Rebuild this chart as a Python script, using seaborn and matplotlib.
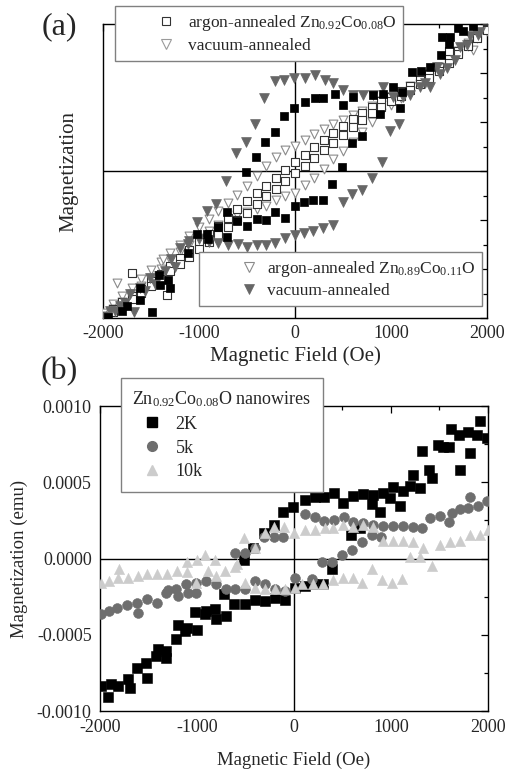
import numpy as np
import pandas as pd
import matplotlib
matplotlib.use("Agg")
import matplotlib.pyplot as plt
from matplotlib.lines import Line2D
from matplotlib.legend_handler import HandlerLine2D
from matplotlib.ticker import MultipleLocator, FormatStrFormatter
import seaborn as sns

# ---------------- Panel (a): arbitrary-unit magnetization ----------------
field_steps = [-2000, -1900, -1800, -1700, -1600, -1500, -1400, -1300, -1200, -1100,
               -1000, -900, -800, -700, -600, -500, -400, -300, -200, -100, 0,
               100, 200, 300, 400, 500, 600, 700, 800, 900, 1000, 1100, 1200, 1300,
               1400, 1500, 1600, 1700, 1800, 1900, 2000]

# argon-annealed Zn0.92Co0.08O (open squares): two branches
ar08_up = [-2.95, -2.82, -2.68, -2.55, -2.40, -2.25, -2.10, -1.94, -1.78, -1.62,
           -1.45, -1.28, -1.12, -0.95, -0.78, -0.62, -0.45, -0.30, -0.14, 0.02, 0.18,
           0.33, 0.48, 0.63, 0.78, 0.92, 1.06, 1.18, 1.30, 1.42, 1.52, 1.63, 1.74, 1.86,
           1.98, 2.12, 2.28, 2.45, 2.60, 2.76, 2.90]
ar08_dn = [-2.95, -2.88, -2.75, -2.62, -2.48, -2.34, -2.20, -2.05, -1.90, -1.75,
           -1.60, -1.45, -1.30, -1.15, -1.00, -0.85, -0.68, -0.52, -0.36, -0.20, -0.05,
           0.10, 0.26, 0.42, 0.58, 0.74, 0.90, 1.04, 1.18, 1.30, 1.42, 1.54, 1.66, 1.78,
           1.90, 2.04, 2.20, 2.38, 2.55, 2.72, 2.88]
ar08_extra_x = [-1698, -1334, 1600]
ar08_extra_y = [-2.09, -2.54, 2.45]

# argon-annealed Zn0.89Co0.11O (open triangles): two branches
ar11_up = [-2.90, -2.72, -2.55, -2.38, -2.20, -2.02, -1.85, -1.68, -1.50, -1.32,
           -1.15, -0.97, -0.82, -0.66, -0.48, -0.30, -0.10, 0.10, 0.28, 0.42, 0.52,
           0.64, 0.75, 0.85, 0.95, 1.05, 1.14, 1.22, 1.32, 1.42, 1.52, 1.62, 1.74, 1.85,
           1.98, 2.12, 2.28, 2.45, 2.62, 2.80, 2.90]
ar11_dn = [-2.95, -2.82, -2.68, -2.52, -2.35, -2.18, -2.00, -1.82, -1.65, -1.50,
           -1.36, -1.22, -1.10, -0.98, -0.90, -0.84, -0.78, -0.71, -0.60, -0.52, -0.44,
           -0.28, -0.14, 0.04, 0.24, 0.41, 0.59, 0.80, 1.00, 1.18, 1.34, 1.50, 1.64, 1.78,
           1.92, 2.06, 2.22, 2.40, 2.56, 2.72, 2.85]
ar11_extra_x = [-1855, 1855, -1375]
ar11_extra_y = [-2.29, 2.47, -1.79]

# vacuum-annealed Zn0.92Co0.08O (black squares)
vac08_x = [1698, 1615, 1532, 1605, 1521, 1407, 1313, 1219, 1115, 1021, 917, 813, 604,
           500, 417, 292, 208, 104, -10, -115, -208, -313, -406, -511,
           -709, -802, -907, -917, -1021, -1115, -1323, -1417, -1615, -1490, -1750,
           -1803, -1615, -1407, -1302, -1950,
           -709, -604, -500, -396, -302, -208, -104, 0, 94, 188, 292, 386, 490, 594,
           698, 886, 1094, 1750, 1850]
vac08_y = [2.92, 2.74, 2.74, 2.60, 2.37, 2.13, 2.05, 2.03, 1.62, 1.72, 1.58, 1.56, 1.52,
           1.34, 1.58, 1.50, 1.48, 1.40, 1.28, 1.12, 0.79, 0.59, 0.28, -0.02,
           -0.83, -1.14, -1.38, -1.28, -1.28, -1.68, -2.23, -2.13, -2.64, -2.88, -2.76,
           -2.86, -2.39, -2.33, -2.39, -2.97,
           -1.34, -1.03, -1.12, -0.97, -1.01, -0.83, -0.95, -0.71, -0.63, -0.59, -0.59,
           -0.26, 0.08, 0.57, 0.71, 1.16, 1.28, 2.85, 2.95]

# vacuum-annealed Zn0.89Co0.11O (grey filled triangles)
vac11_x = [1928, 1824, 1719, 1584, 1480, 1407, 1302, 1125, 1021, 917, 813, 709, 604,
           500, 396, 313, 208, 104, -10, -115, -208, -323, -417, -511, -615, -719,
           -823, -917, -1021, -1115, -1198, -1250, -1417, -1511, -1615, -1719, -1824,
           -1928,
           -1980, -1880, -1770, -1680, -1560, -1460, -1350, -1290, -1100, -1000, -900,
           -800, -698, -594, -500, -396, -300, -208, -104, 0, 94, 188, 292, 396, 500,
           594, 698, 802, 907, 990, 1084, 1198, 1350, 1511, 1667, 1792, 1907]
vac11_y = [2.84, 2.76, 2.54, 2.11, 2.13, 1.72, 1.72, 1.52, 1.52, 1.72, 1.56, 1.56, 1.56,
           1.66, 1.79, 1.85, 1.95, 1.89, 1.89, 1.85, 1.83, 1.48, 0.95, 0.59, 0.37, -0.20,
           -0.67, -0.81, -1.05, -1.48, -1.58, -1.95, -2.15, -2.19, -2.39, -2.52, -2.76,
           -2.86,
           -2.98, -2.85, -2.70, -2.88, -2.45, -2.30, -2.05, -1.80, -1.42, -1.38, -1.45,
           -1.47, -1.52, -1.48, -1.55, -1.52, -1.50, -1.46, -1.36, -1.30, -1.26, -1.22,
           -1.16, -1.10, -0.63, -0.47, -0.39, -0.14, 0.18, 0.81, 0.95, 1.56, 1.80, 1.97,
           2.27, 2.58, 2.78]

# ---------------- Panel (b): Zn0.92Co0.08O nanowires (values in 1e-4 emu) ----------------
k2_x = [-1990, -1918, -1887, -1815, -1711, -1691, -1619, -1516, -1526, -1423, -1402,
        -1320, -1320, -1217, -1196, -1124, -1103, -1000, -1021, -918, -907, -804, -815,
        -701, -619, -505, -402, -299, -196, -93, 10, 113, 196, 299, 392, 588, 680,
        1990, 1918, 1887, 1815, 1794, 1711, 1701, 1619, 1598, 1536, 1485, 1423, 1392,
        1320, 1299, 1227, 1196, 1124, 1093, 1021, 990, 918, 887, 815, 804, 711, 608,
        505, 412, 309, 216, 113, -10, -113, -206, -309, -423, -515, -722]
k2_y = [-8.36, -9.08, -8.22, -8.36, -7.89, -8.49, -7.17, -7.83, -6.84, -6.38, -5.92,
        -6.51, -6.05, -5.26, -4.34, -4.74, -4.54, -4.67, -3.49, -3.62, -3.42, -3.95, -3.29,
        -3.75, -2.96, -2.96, -2.70, -2.76, -2.57, -2.70, -1.91, -1.78, -1.64, -1.64, -0.72,
        1.51, 1.97,
        7.89, 9.01, 8.09, 6.91, 8.29, 5.79, 8.09, 8.49, 7.30, 7.30, 7.43, 5.26, 5.79,
        7.04, 4.61, 5.46, 4.74, 4.41, 3.42, 4.67, 3.95, 4.28, 3.03, 4.14, 3.55, 4.21, 4.08,
        3.62, 4.28, 4.01, 4.01, 3.82, 3.36, 3.03, 2.17, 1.64, 0.72, -0.13, -2.30]

k5_x = [-1990, -1907, -1825, -1722, -1619, -1608, -1516, -1413, -1320, -1299, -1217,
        -1196, -1113, -1093, -1010, -1010, -907, -804, -701, -608, -505, -402, -299,
        -196, -93, 10, 186, 289, 392, 495, 598, 701, 804, 897,
        1990, 1897, 1815, 1794, 1711, 1629, 1598, 1505, 1402, 1320, 1227, 1124, 1021,
        918, 815, 711, 608, 516, 412, 309, 216, 113, -113, -206, -309, -402, -505, -608]
k5_y = [-3.62, -3.42, -3.22, -3.03, -2.89, -3.55, -2.63, -2.89, -2.24, -2.04, -1.97,
        -2.43, -1.64, -2.24, -1.58, -2.24, -1.45, -1.64, -1.97, -1.97, -1.97, -1.45, -1.64,
        -1.97, -2.11, -1.25, -1.32, -0.26, -0.26, 0.26, 0.59, 1.05, 1.51, 1.38,
        3.75, 3.42, 4.01, 3.29, 3.22, 2.96, 2.37, 2.76, 2.63, 1.97, 2.04, 2.11, 2.11,
        2.11, 2.17, 2.30, 2.37, 2.70, 2.50, 2.43, 2.70, 2.89, 1.38, 1.38, 1.38, 0.72,
        0.33, 0.33]

k10_x = [-1990, -1907, -1815, -1711, -1608, -1516, -1413, -1309, -1206, -1103, -1010,
         -887, -804, -711, -608, -505, -402, -299, -196, -93, 10, 82, 196, 299, 402,
         505, 608, 701, 804, 907, 1010, 1113, 1196, 1299, 1423,
         2000, 1918, 1815, 1711, 1608, 1505, 1330, 1227, 1124, 1021, 918, 815, 711,
         608, 505, 402, 320, 216, 113, 0, -103, -206, -299, -402, -515, -588, -815,
         -918, -1000, -1103, -1804]
k10_y = [-1.58, -1.45, -1.25, -1.25, -1.12, -0.99, -0.99, -0.99, -0.79, -0.86, -1.58,
         -0.79, -1.12, -0.79, -0.59, -1.58, -1.91, -1.97, -1.97, -1.97, -1.91, -1.64,
         -1.64, -1.64, -1.38, -1.25, -1.25, -1.58, -0.66, -1.38, -1.58, -1.32, 0.07, 0.07,
         -0.46,
         1.84, 1.51, 1.51, 1.18, 1.05, 0.86, 0.72, 1.05, 1.18, 1.18, 1.18, 2.04, 2.17,
         2.04, 2.17, 1.97, 1.97, 1.84, 1.84, 1.64, 2.04, 2.04, 1.64, 0.66, 1.32, -0.33,
         -0.07, 0.26, -0.07, -0.20, -0.66]

xticks = [-2000, -1000, 0, 1000, 2000]
b_yticks = [-0.0010, -0.0005, 0.0, 0.0005, 0.0010]

# ---------------- style ----------------
sns.set_theme(style="white")
plt.rcParams["font.family"] = ["Liberation Serif", "DejaVu Serif"]
plt.rcParams["mathtext.default"] = "regular"
plt.rcParams["axes.unicode_minus"] = False

W, H = 506, 771
fig = plt.figure(figsize=(W / 100, H / 100), dpi=100)
ax_a = fig.add_axes([103 / W, 1 - 318 / H, (487 - 103) / W, (318 - 24) / H])
ax_b = fig.add_axes([100 / W, 1 - 711 / H, (488 - 100) / W, (711 - 406) / H])


def style_axes(ax):
    for s in ax.spines.values():
        s.set_color("black")
        s.set_linewidth(1.0)
    ax.tick_params(which="both", direction="in", top=True, right=True,
                   color="black", width=0.9)
    ax.tick_params(which="major", length=5)
    ax.tick_params(which="minor", length=3)
    ax.axhline(0, color="black", lw=1.0, zorder=1)
    ax.axvline(0, color="black", lw=1.0, zorder=1)


# ---- panel (a) ----
df_ar08 = pd.DataFrame({"H": field_steps + field_steps + ar08_extra_x,
                        "M": ar08_up + ar08_dn + ar08_extra_y})
df_ar11 = pd.DataFrame({"H": field_steps + field_steps + ar11_extra_x,
                        "M": ar11_up + ar11_dn + ar11_extra_y})
df_v08 = pd.DataFrame({"H": vac08_x, "M": vac08_y})
df_v11 = pd.DataFrame({"H": vac11_x, "M": vac11_y})

sns.scatterplot(data=df_ar11, x="H", y="M", ax=ax_a, marker="v", s=40,
                color="white", edgecolor="#8a8a8a", linewidth=0.8, legend=False, zorder=3)
sns.scatterplot(data=df_ar08, x="H", y="M", ax=ax_a, marker="s", s=32,
                color="white", edgecolor="#333333", linewidth=0.8, legend=False, zorder=3)
sns.scatterplot(data=df_v11, x="H", y="M", ax=ax_a, marker="v", s=50,
                color="#666666", edgecolor="#666666", linewidth=0.5, legend=False, zorder=4)
sns.scatterplot(data=df_v08, x="H", y="M", ax=ax_a, marker="s", s=36,
                color="black", edgecolor="black", linewidth=0.5, legend=False, zorder=4)

style_axes(ax_a)
ax_a.set_xlim(-2000, 2000)
ax_a.set_ylim(-3, 3)
ax_a.set_xticks(xticks)
ax_a.xaxis.set_minor_locator(MultipleLocator(500))
ax_a.yaxis.set_major_locator(MultipleLocator(1))
ax_a.yaxis.set_minor_locator(MultipleLocator(0.5))
ax_a.set_yticklabels([])
ax_a.tick_params(axis="x", labelsize=13, pad=5)
ax_a.set_xlabel("Magnetic Field (Oe)", fontsize=15, labelpad=3)
ax_a.set_ylabel("Magnetization", fontsize=15, labelpad=14)

fs_a = 12.5
h1 = [Line2D([], [], ls="", marker="s", ms=6, mfc="white", mec="#333333", mew=0.8),
      Line2D([], [], ls="", marker="v", ms=6.5, mfc="white", mec="#9a9a9a", mew=0.8)]
leg1 = ax_a.legend(h1, ["argon-annealed Zn$_{0.92}$Co$_{0.08}$O", "vacuum-annealed"],
                   loc="upper left", bbox_to_anchor=(115 / W, 1 - 6 / H),
                   bbox_transform=fig.transFigure, fontsize=fs_a, frameon=True,
                   fancybox=False, edgecolor="#808080", framealpha=1,
                   handlelength=3.2, handletextpad=0.6, borderpad=0.38,
                   labelspacing=0.32, borderaxespad=0,
                   handler_map={Line2D: HandlerLine2D(numpoints=1, xpad=1.9)})
leg1.get_frame().set_linewidth(1.0)
leg1.set_zorder(10)
ax_a.add_artist(leg1)

h2 = [Line2D([], [], ls="", marker="v", ms=6.5, mfc="white", mec="#8a8a8a", mew=0.8),
      Line2D([], [], ls="", marker="v", ms=7.5, mfc="#666666", mec="#666666", mew=0.5)]
leg2 = ax_a.legend(h2, ["argon-annealed Zn$_{0.89}$Co$_{0.11}$O", "vacuum-annealed"],
                   loc="upper left", bbox_to_anchor=(199 / W, 1 - 252 / H),
                   bbox_transform=fig.transFigure, fontsize=fs_a, frameon=True,
                   fancybox=False, edgecolor="#808080", framealpha=1,
                   handlelength=3.0, handletextpad=0.55, borderpad=0.38,
                   labelspacing=0.25, borderaxespad=0,
                   handler_map={Line2D: HandlerLine2D(numpoints=1, xpad=2.0)})
leg2.get_frame().set_linewidth(1.0)
leg2.set_zorder(10)

# ---- panel (b) ----
df_b = pd.concat([
    pd.DataFrame({"H": k2_x, "M": np.array(k2_y) * 1e-4, "T": "2K"}),
    pd.DataFrame({"H": k5_x, "M": np.array(k5_y) * 1e-4, "T": "5k"}),
    pd.DataFrame({"H": k10_x, "M": np.array(k10_y) * 1e-4, "T": "10k"}),
], ignore_index=True)

sns.scatterplot(data=df_b[df_b["T"] == "2K"], x="H", y="M", ax=ax_b, marker="s", s=44,
                color="black", edgecolor="black", linewidth=0.4, legend=False, zorder=3)
sns.scatterplot(data=df_b[df_b["T"] == "5k"], x="H", y="M", ax=ax_b, marker="o", s=50,
                color="#6e6e6e", edgecolor="#6e6e6e", linewidth=0.4, legend=False, zorder=4)
sns.scatterplot(data=df_b[df_b["T"] == "10k"], x="H", y="M", ax=ax_b, marker="^", s=54,
                color="#cccccc", edgecolor="#cccccc", linewidth=0.4, legend=False, zorder=5)

style_axes(ax_b)
ax_b.set_xlim(-2000, 2000)
ax_b.set_ylim(-0.001, 0.001)
ax_b.set_xticks(xticks)
ax_b.set_yticks(b_yticks)
ax_b.xaxis.set_minor_locator(MultipleLocator(500))
ax_b.yaxis.set_minor_locator(MultipleLocator(0.00025))
ax_b.yaxis.set_major_formatter(FormatStrFormatter("%.4f"))
ax_b.tick_params(axis="both", labelsize=13, pad=6)
ax_b.set_xlabel("Magnetic Field (Oe)", fontsize=13.5, labelpad=11)
ax_b.set_ylabel("Magnetization (emu)", fontsize=13.5, labelpad=6)

fs_b = 13
h3 = [Line2D([], [], ls="", marker="s", ms=6.5, mfc="black", mec="black"),
      Line2D([], [], ls="", marker="o", ms=7, mfc="#6e6e6e", mec="#6e6e6e"),
      Line2D([], [], ls="", marker="^", ms=7, mfc="#cccccc", mec="#cccccc")]
leg3 = ax_b.legend(h3, ["2K", "5k", "10k"], title="Zn$_{0.92}$Co$_{0.08}$O nanowires",
                   title_fontsize=fs_b, alignment="left",
                   loc="upper left", bbox_to_anchor=(121 / W, 1 - 378 / H),
                   bbox_transform=fig.transFigure, fontsize=fs_b, frameon=True,
                   fancybox=False, edgecolor="#808080", framealpha=1,
                   handlelength=1.9, handletextpad=0.5, borderpad=0.62,
                   labelspacing=0.38, borderaxespad=0,
                   handler_map={Line2D: HandlerLine2D(numpoints=1, xpad=0.3)})
leg3.get_frame().set_linewidth(1.0)
leg3.set_zorder(10)

fig.text(59 / W, 1 - 27 / H, "(a)", fontsize=23, ha="center", va="center")
fig.text(59 / W, 1 - 372 / H, "(b)", fontsize=23, ha="center", va="center")

fig.savefig("out.png", dpi=100)
